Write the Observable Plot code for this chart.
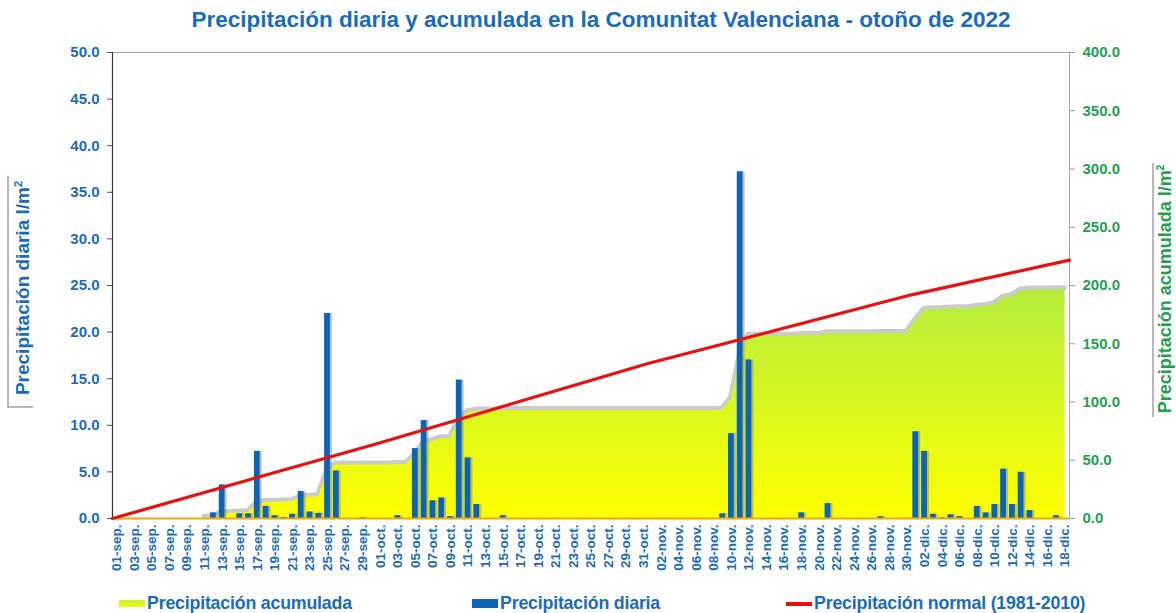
<!DOCTYPE html>
<html>
<head>
<meta charset="utf-8">
<script src="https://cdn.jsdelivr.net/npm/d3@7"></script>
<script src="https://cdn.jsdelivr.net/npm/@observablehq/plot@0.6"></script>
<style>
  html, body { margin: 0; padding: 0; background: #fff; }
  #wrap { position: relative; width: 1176px; height: 613px; overflow: hidden; font-family: "Liberation Sans", Arial, sans-serif; }
  #chart { position: absolute; left: 0; top: 0; }
  .title { position: absolute; top: 7px; left: 13px; width: 1176px; text-align: center; font-size: 22.5px; font-weight: bold; color: #1b6cb6; white-space: nowrap; }
  .ytitle { position: absolute; font-size: 19px; font-weight: bold; white-space: nowrap; transform: translate(-50%, -50%) rotate(-90deg); }
  .gline { position: absolute; background: #b8b8b8; }
  .legend { position: absolute; top: 593px; font-size: 17.8px; font-weight: bold; white-space: nowrap; display: flex; align-items: center; letter-spacing: -0.2px; }
  .sw { display: inline-block; width: 26px; height: 7px; margin-right: 2px; }
</style>
</head>
<body>
<div id="wrap">
  <div id="chart"></div>
  <div class="title">Precipitación diaria y acumulada en la Comunitat Valenciana - otoño de 2022</div>
  <div class="gline" style="left:7px;top:176px;width:2px;height:232px;"></div>
  <div class="gline" style="left:7px;top:406px;width:26px;height:2px;"></div>
  <div class="ytitle" style="left:23px;top:288px;color:#1b6cb6;">Precipitación diaria l/m<sup style="font-size:11px">2</sup></div>
  <div class="gline" style="left:1152px;top:163px;width:2px;height:254px;"></div>
  <div class="ytitle" style="left:1165px;top:289px;font-size:18px;color:#22a050;">Precipitación acumulada l/m<sup style="font-size:10px">2</sup></div>
  <div class="legend" style="left:119px;color:#1b6cb6;"><span class="sw" style="background:linear-gradient(#c8f232,#e6fc14);"></span>Precipitación acumulada</div>
  <div class="legend" style="left:472px;color:#1b6cb6;"><span class="sw" style="background:#0d63b5;height:9px;"></span>Precipitación diaria</div>
  <div class="legend" style="left:786px;color:#1b6cb6;"><span class="sw" style="background:#e81010;height:4px;"></span>Precipitación normal (1981-2010)</div>
</div>
<script>
// ---- Data ----
const fechaInicio = "2022-09-01";
const fechaFin = "2022-12-19"; // exclusive (last day 18-dic)

// Daily precipitation (l/m2), 01-sep .. 18-dic
const diariaSep = [0,0,0,0,0,0,0,0,0,0,0, 0.6,3.6,0,0.5,0.5,7.2,1.3,0.3,0.1, 0.45,2.9,0.7,0.55,22.0,5.1,0,0,0.1,0];
const diariaOct = [0,0,0.3,0,7.5,10.5,1.9,2.2,0.2,14.85, 6.5,1.5,0,0,0.3,0,0,0,0,0, 0,0,0,0,0,0,0,0,0,0, 0];
const diariaNov = [0,0,0,0,0,0,0,0,0.5,9.1, 37.2,17.0,0,0,0,0,0,0.6,0,0, 1.6,0,0,0,0,0,0.2,0,0,0];
const diariaDic = [9.3,7.2,0.45,0.1,0.4,0.2,0,1.3,0.6,1.5, 5.3,1.5,4.95,0.85,0,0,0.3,0];

// Accumulated precipitation (l/m2), 01-sep .. 18-dic
const acumSep = [0,0,0,0,0,0,0,0,0,0,0, 0.6,4.2,4.2,4.7,5.2,12.4,13.7,14.0,14.1, 14.6,17.5,18.2,18.8,40.8,45.9,45.9,45.9,46.0,46.0];
const acumOct = [46.0,46.0,46.3,46.3,53.8,64.3,66.2,68.4,68.6,84.0, 90.8,92.3,92.3,92.3,92.6,92.6,92.6,92.6,92.6,92.6, 92.6,92.6,92.6,92.6,92.6,92.6,92.6,92.6,92.6,92.6, 92.6];
const acumNov = [92.6,92.6,92.6,92.6,92.6,92.6,92.6,92.6,93.1,102.2, 139.4,156.4,156.4,156.4,156.4,156.4,156.4,157.0,157.0,157.0, 158.6,158.6,158.6,158.6,158.6,158.6,158.8,158.8,158.8,158.8];
const acumDic = [169.5,178.5,179.2,179.3,179.8,180.0,180.0,181.4,182.0,183.6, 189.0,190.6,195.3,196.1,196.1,196.1,196.4,196.4];

// Normal accumulated precipitation (1981-2010) at month boundaries
const normalFechas = ["2022-09-01","2022-10-01","2022-11-01","2022-12-01","2022-12-19"];
const normalValores = [0, 64, 133, 192, 221.8];

// Axis ticks
const ticksDiaria = [0,5,10,15,20,25,30,35,40,45,50];
const ticksAcum = [0,50,100,150,200,250,300,350,400];
const etiquetasX = [
  "01-sep.","03-sep.","05-sep.","07-sep.","09-sep.","11-sep.","13-sep.","15-sep.","17-sep.","19-sep.","21-sep.","23-sep.","25-sep.","27-sep.","29-sep.",
  "01-oct.","03-oct.","05-oct.","07-oct.","09-oct.","11-oct.","13-oct.","15-oct.","17-oct.","19-oct.","21-oct.","23-oct.","25-oct.","27-oct.","29-oct.","31-oct.",
  "02-nov.","04-nov.","06-nov.","08-nov.","10-nov.","12-nov.","14-nov.","16-nov.","18-nov.","20-nov.","22-nov.","24-nov.","26-nov.","28-nov.","30-nov.",
  "02-dic.","04-dic.","06-dic.","08-dic.","10-dic.","12-dic.","14-dic.","16-dic.","18-dic."
];

// ---- Build tables ----
const ratio = 400 / 50; // right axis / left axis
const dias = d3.utcDay.range(new Date(fechaInicio), new Date(fechaFin));
const diaria = [...diariaSep, ...diariaOct, ...diariaNov, ...diariaDic];
const acumulada = [...acumSep, ...acumOct, ...acumNov, ...acumDic];
const mitad = d => d3.utcHour.offset(d, 12);
const datos = dias.map((d, i) => ({fecha: d, centro: mitad(d), diaria: diaria[i], acum: acumulada[i], visible: acumulada[i] > 0 || acumulada[i + 1] > 0}));
const normal = normalFechas.map((f, i) => ({fecha: new Date(f), valor: normalValores[i]}));
const meses = {sep: 8, oct: 9, nov: 10, dic: 11};
const tickFechas = etiquetasX.map(s => new Date(Date.UTC(2022, meses[s.slice(3, 6)], +s.slice(0, 2), 12)));

const azul = "#1b6cb6";
const verde = "#22a050";

const defs = () => {
  const ns = "http://www.w3.org/2000/svg";
  const d = document.createElementNS(ns, "defs");
  const g = document.createElementNS(ns, "linearGradient");
  g.setAttribute("id", "gradAcum");
  g.setAttribute("x1", "0"); g.setAttribute("y1", "0");
  g.setAttribute("x2", "0"); g.setAttribute("y2", "1");
  [["0%", "#b4ec3c"], ["55%", "#dcf81c"], ["100%", "#ffff00"]].forEach(([o, c]) => {
    const s = document.createElementNS(ns, "stop");
    s.setAttribute("offset", o); s.setAttribute("stop-color", c);
    g.appendChild(s);
  });
  d.appendChild(g);
  return d;
};

const chart = Plot.plot({
  width: 1176,
  height: 613,
  marginTop: 52,
  marginBottom: 95,
  marginLeft: 112,
  marginRight: 107,
  style: {fontFamily: "'Liberation Sans', Arial, sans-serif", background: "transparent"},
  x: {type: "utc", domain: [new Date(fechaInicio), new Date(fechaFin)], axis: null},
  y: {domain: [0, 50], axis: null},
  marks: [
    defs,
    Plot.frame({stroke: "#a8a8a8"}),
    // shadow of accumulated area
    Plot.lineY(datos.filter(d => d.visible), {x: "centro", y: d => d.acum / ratio, stroke: "#a0a0a0", strokeWidth: 5, strokeOpacity: 0.55, dy: -2, dx: -1}),
    Plot.areaY(datos, {x: "centro", y: d => d.acum / ratio, fill: "url(#gradAcum)"}),
    // bar shadows
    Plot.rectY(datos.filter(d => d.diaria > 0), {x: "fecha", interval: "day", y: "diaria", fill: "#8a8a8a", fillOpacity: 0.5, insetLeft: 1.6, insetRight: 1.0, dx: 1.5}),
    Plot.rectY(datos.filter(d => d.diaria > 0), {x: "fecha", interval: "day", y: "diaria", fill: "#0d63b5", insetLeft: 1.4, insetRight: 1.6}),
    Plot.ruleY([0], {stroke: "#f2a900", strokeWidth: 2}),
    Plot.ruleX([new Date(fechaInicio)], {stroke: "#333", strokeWidth: 1.2}),
    Plot.lineY(normal, {x: "fecha", y: d => d.valor / ratio, stroke: "#e81010", strokeWidth: 3.2}),
    Plot.axisY(ticksDiaria, {anchor: "left", tickFormat: d => d.toFixed(1), tickSize: 5, tickPadding: 8, stroke: "#555", fill: azul, fontSize: 15, fontWeight: "bold", label: null}),
    Plot.axisY(ticksAcum.map(v => v / ratio), {anchor: "right", tickFormat: d => (d * ratio).toFixed(1), tickSize: 5, tickPadding: 8, stroke: "#999", fill: verde, fontSize: 15, fontWeight: "bold", label: null}),
    Plot.axisX(tickFechas, {anchor: "bottom", tickRotate: -90, tickFormat: (d, i) => etiquetasX[i], tickSize: 0, tickPadding: 6, fill: azul, fontSize: 13.5, fontWeight: "bold", label: null})
  ]
});
document.getElementById("chart").appendChild(chart);
</script>
</body>
</html>
